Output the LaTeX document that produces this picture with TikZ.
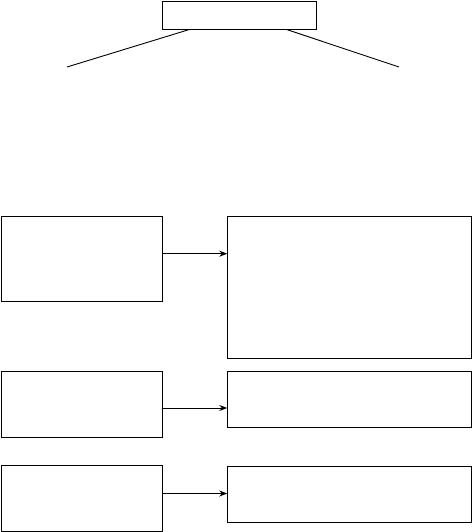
\documentclass[tikz,border=0pt]{standalone}
\usetikzlibrary{arrows.meta}
\begin{document}
\begin{tikzpicture}[x=1pt, y=-1pt, line width=0.9pt,
  blk/.style={draw, rectangle, inner sep=0pt},
  arr/.style={-{Stealth[length=8pt,width=6pt]}}]
  \useasboundingbox (0,0) rectangle (472,532);
  % Top: box with two branches
  \node[blk, minimum width=154pt, minimum height=28pt] (top) at (239,15) {};
  \coordinate (brl) at (67,67);
  \coordinate (brr) at (399,67);
  \draw ([xshift=28pt]top.south west) -- (brl);
  \draw ([xshift=-30pt]top.south east) -- (brr);
  % Left column
  \node[blk, minimum width=161pt, minimum height=85pt] (l1) at (81.5,258.7) {};
  \node[blk, minimum width=161pt, minimum height=66pt] (l2) at (81.5,404) {};
  \node[blk, minimum width=161pt, minimum height=66pt] (l3) at (81.5,498.5) {};
  % Right column
  \node[blk, minimum width=244pt, minimum height=142pt] (r1) at (349.7,287) {};
  \node[blk, minimum width=244pt, minimum height=56pt] (r2) at (349.7,399) {};
  \node[blk, minimum width=244pt, minimum height=56pt] (r3) at (349.7,494) {};
  % Arrows
  \coordinate (a1) at ([yshift=5pt]l1.east);
  \coordinate (a2) at ([yshift=-4pt]l2.east);
  \coordinate (a3) at ([yshift=5pt]l3.east);
  \draw[arr] (a1) -- (a1 -| r1.west);
  \draw[arr] (a2) -- (a2 -| r2.west);
  \draw[arr] (a3) -- (a3 -| r3.west);
\end{tikzpicture}
\end{document}
